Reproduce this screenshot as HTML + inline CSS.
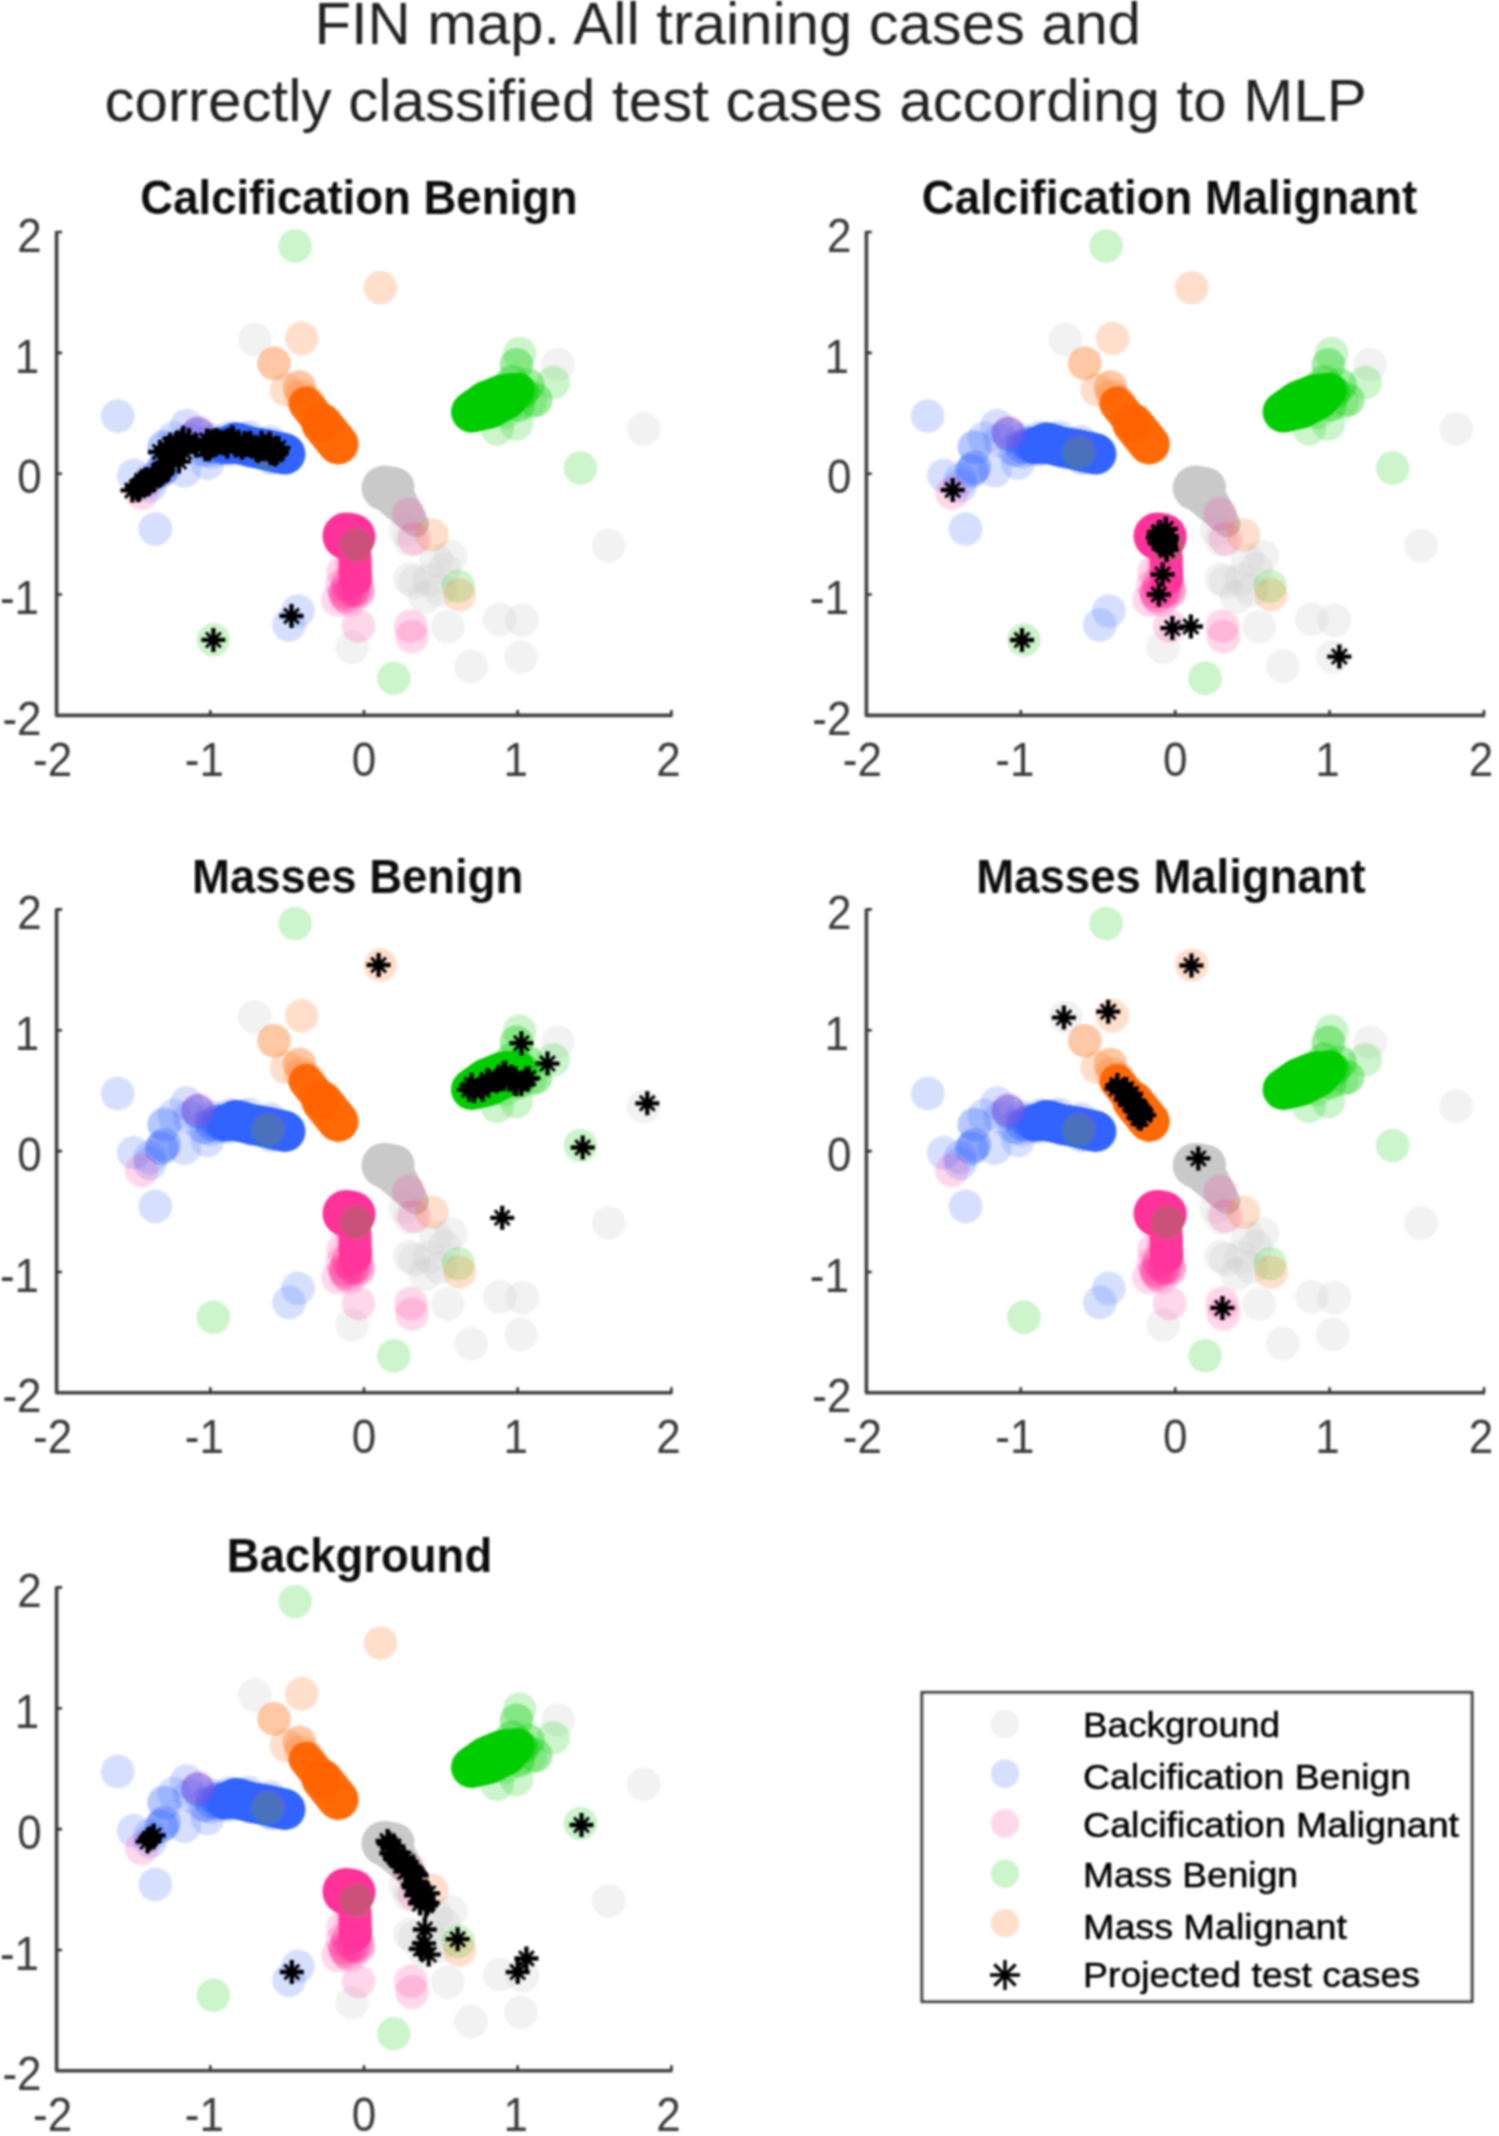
<!DOCTYPE html>
<html><head><meta charset="utf-8"><style>
html,body{margin:0;padding:0;background:#fff;}
svg{display:block;}
text{font-family:"Liberation Sans",sans-serif;fill:#222;}
</style></head><body>
<svg width="1499" height="2136" viewBox="0 0 1499 2136">
<defs>
<filter id="bl" x="-5%" y="-5%" width="110%" height="110%"><feGaussianBlur stdDeviation="1.1"/></filter>
<filter id="sb" x="-5%" y="-5%" width="110%" height="110%"><feGaussianBlur stdDeviation="1.3"/></filter>
<filter id="tb" x="-2%" y="-5%" width="104%" height="110%"><feGaussianBlur stdDeviation="0.85"/></filter>
<g id="bg">
<g fill="#C9C9C9" fill-opacity="1.0"><circle cx="384.0" cy="488.0" r="22.5"/><circle cx="385.8" cy="487.8" r="22.0"/><circle cx="387.7" cy="487.7" r="21.5"/><circle cx="389.5" cy="487.5" r="21.0"/><circle cx="391.3" cy="487.3" r="20.5"/><circle cx="393.2" cy="487.2" r="20.0"/><circle cx="395.0" cy="487.0" r="19.5"/><circle cx="392.0" cy="494.0" r="21.0"/><circle cx="393.2" cy="495.5" r="20.6"/><circle cx="394.4" cy="497.0" r="20.2"/><circle cx="395.6" cy="498.5" r="19.8"/><circle cx="396.8" cy="500.0" r="19.4"/><circle cx="398.0" cy="501.5" r="19.0"/><circle cx="399.2" cy="503.0" r="18.6"/><circle cx="400.4" cy="504.5" r="18.2"/><circle cx="401.6" cy="506.0" r="17.8"/><circle cx="402.8" cy="507.5" r="17.4"/><circle cx="404.0" cy="509.0" r="17.0"/><circle cx="405.2" cy="510.5" r="16.6"/><circle cx="406.4" cy="512.0" r="16.2"/><circle cx="407.6" cy="513.5" r="15.8"/><circle cx="408.8" cy="515.0" r="15.4"/><circle cx="410.0" cy="516.5" r="15.0"/><circle cx="411.2" cy="518.0" r="14.6"/><circle cx="412.4" cy="519.5" r="14.2"/><circle cx="413.6" cy="521.0" r="13.8"/><circle cx="414.8" cy="522.5" r="13.4"/><circle cx="416.0" cy="524.0" r="13.0"/></g>
<g fill="#BEBEBE" fill-opacity="0.2"><circle cx="254.8" cy="339.6" r="16.8"/><circle cx="558.0" cy="364.8" r="16.8"/><circle cx="643.7" cy="428.9" r="16.8"/><circle cx="608.8" cy="545.6" r="16.8"/><circle cx="450.8" cy="556.3" r="16.8"/><circle cx="444.5" cy="569.0" r="16.8"/><circle cx="414.5" cy="582.0" r="16.8"/><circle cx="429.5" cy="579.8" r="16.8"/><circle cx="425.2" cy="596.9" r="16.8"/><circle cx="409.8" cy="579.0" r="16.8"/><circle cx="447.6" cy="626.7" r="16.8"/><circle cx="499.9" cy="619.3" r="16.8"/><circle cx="522.4" cy="620.3" r="16.8"/><circle cx="471.1" cy="666.2" r="16.8"/><circle cx="352.1" cy="647.3" r="16.8"/><circle cx="521.0" cy="657.0" r="16.8"/><circle cx="440.0" cy="590.0" r="16.8"/><circle cx="436.0" cy="560.0" r="16.8"/><circle cx="405.0" cy="530.0" r="16.8"/><circle cx="410.0" cy="540.0" r="16.8"/></g>
<g fill="#3366FF" fill-opacity="0.97"><circle cx="224.0" cy="446.0" r="18.0"/><circle cx="226.0" cy="445.5" r="18.4"/><circle cx="228.0" cy="445.0" r="18.8"/><circle cx="230.0" cy="444.5" r="19.2"/><circle cx="232.0" cy="444.0" r="19.7"/><circle cx="234.0" cy="443.5" r="20.1"/><circle cx="236.0" cy="443.0" r="20.5"/><circle cx="236.0" cy="443.0" r="20.5"/><circle cx="238.0" cy="443.5" r="20.4"/><circle cx="240.0" cy="444.0" r="20.4"/><circle cx="242.0" cy="444.5" r="20.3"/><circle cx="244.0" cy="445.0" r="20.2"/><circle cx="246.0" cy="445.5" r="20.2"/><circle cx="248.0" cy="446.0" r="20.1"/><circle cx="250.0" cy="446.5" r="20.1"/><circle cx="252.0" cy="447.0" r="20.0"/><circle cx="252.0" cy="447.0" r="20.0"/><circle cx="254.0" cy="447.4" r="20.1"/><circle cx="256.0" cy="447.8" r="20.1"/><circle cx="258.0" cy="448.1" r="20.2"/><circle cx="260.0" cy="448.5" r="20.2"/><circle cx="262.0" cy="448.9" r="20.3"/><circle cx="264.0" cy="449.2" r="20.4"/><circle cx="266.0" cy="449.6" r="20.4"/><circle cx="268.0" cy="450.0" r="20.5"/><circle cx="268.0" cy="450.0" r="20.5"/><circle cx="270.1" cy="450.5" r="20.5"/><circle cx="272.2" cy="451.0" r="20.5"/><circle cx="274.4" cy="451.5" r="20.5"/><circle cx="276.5" cy="452.0" r="20.5"/><circle cx="278.6" cy="452.5" r="20.5"/><circle cx="280.8" cy="453.0" r="20.5"/><circle cx="282.9" cy="453.5" r="20.5"/><circle cx="285.0" cy="454.0" r="20.5"/></g>
<g fill="#3366FF" fill-opacity="0.2"><circle cx="117.7" cy="416.1" r="16.8"/><circle cx="155.3" cy="529.0" r="16.8"/><circle cx="133.7" cy="475.4" r="16.8"/><circle cx="164.1" cy="446.5" r="16.8"/><circle cx="184.4" cy="470.8" r="16.8"/><circle cx="186.6" cy="425.7" r="16.8"/><circle cx="207.4" cy="463.2" r="16.8"/><circle cx="298.0" cy="611.0" r="16.8"/><circle cx="289.0" cy="625.0" r="16.8"/><circle cx="174.0" cy="438.0" r="16.8"/><circle cx="150.0" cy="480.0" r="16.8"/><circle cx="212.0" cy="440.0" r="16.8"/><circle cx="161.4" cy="470.8" r="16.8"/><circle cx="161.4" cy="470.8" r="16.8"/><circle cx="164.1" cy="467.4" r="16.8"/><circle cx="164.1" cy="467.4" r="16.8"/><circle cx="164.4" cy="447.8" r="16.8"/><circle cx="150.0" cy="486.0" r="16.8"/><circle cx="212.0" cy="447.0" r="16.8"/><circle cx="212.0" cy="447.0" r="16.8"/><circle cx="218.0" cy="444.0" r="16.8"/><circle cx="218.0" cy="444.0" r="16.8"/><circle cx="206.0" cy="450.0" r="16.8"/><circle cx="198.0" cy="434.0" r="16.8"/><circle cx="198.0" cy="434.0" r="16.8"/><circle cx="198.0" cy="434.0" r="16.8"/><circle cx="190.0" cy="440.0" r="16.8"/><circle cx="203.1" cy="449.8" r="16.8"/><circle cx="214.9" cy="443.6" r="16.8"/><circle cx="219.4" cy="443.7" r="16.8"/><circle cx="227.5" cy="445.1" r="16.8"/><circle cx="229.8" cy="437.6" r="16.8"/><circle cx="242.4" cy="439.5" r="16.8"/><circle cx="248.6" cy="437.2" r="16.8"/><circle cx="252.9" cy="444.2" r="16.8"/><circle cx="257.9" cy="447.2" r="16.8"/><circle cx="270.0" cy="441.7" r="16.8"/><circle cx="269.6" cy="447.7" r="16.8"/><circle cx="283.5" cy="448.4" r="16.8"/><circle cx="283.8" cy="451.8" r="16.8"/><circle cx="288.2" cy="453.8" r="16.8"/><circle cx="211.5" cy="452.0" r="16.8"/><circle cx="219.1" cy="448.9" r="16.8"/><circle cx="228.2" cy="449.8" r="16.8"/><circle cx="238.1" cy="446.8" r="16.8"/><circle cx="251.7" cy="451.9" r="16.8"/><circle cx="259.3" cy="450.4" r="16.8"/><circle cx="271.0" cy="458.3" r="16.8"/><circle cx="273.0" cy="456.7" r="16.8"/></g>
<path d="M346.0 536.0 L352.0 537.0" fill="none" stroke="#FF3399" stroke-opacity="1.0" stroke-width="47.0" stroke-linecap="round" stroke-linejoin="round"/>
<path d="M355.0 556.0 L355.5 579.0" fill="none" stroke="#FF3399" stroke-opacity="0.97" stroke-width="33.0" stroke-linecap="round" stroke-linejoin="round"/>
<g fill="#FF3399" fill-opacity="0.2"><circle cx="141.7" cy="493.0" r="16.8"/><circle cx="197.8" cy="432.1" r="16.8"/><circle cx="408.7" cy="514.0" r="16.8"/><circle cx="414.0" cy="539.0" r="16.8"/><circle cx="358.5" cy="626.0" r="16.8"/><circle cx="410.9" cy="626.0" r="16.8"/><circle cx="412.0" cy="636.6" r="16.8"/><circle cx="268.6" cy="451.6" r="16.8"/><circle cx="353.0" cy="590.0" r="16.8"/><circle cx="353.0" cy="590.0" r="16.8"/><circle cx="353.0" cy="590.0" r="16.8"/><circle cx="346.0" cy="596.0" r="16.8"/><circle cx="346.0" cy="596.0" r="16.8"/><circle cx="338.0" cy="600.0" r="16.8"/><circle cx="358.0" cy="592.0" r="16.8"/><circle cx="358.0" cy="592.0" r="16.8"/><circle cx="352.0" cy="566.0" r="16.8"/><circle cx="356.0" cy="576.0" r="16.8"/><circle cx="348.0" cy="584.0" r="16.8"/><circle cx="348.0" cy="584.0" r="16.8"/><circle cx="345.0" cy="592.0" r="16.8"/><circle cx="345.0" cy="592.0" r="16.8"/><circle cx="358.0" cy="588.0" r="16.8"/><circle cx="343.0" cy="572.0" r="16.8"/><circle cx="350.0" cy="600.0" r="16.8"/><circle cx="342.0" cy="585.0" r="16.8"/></g>
<g fill="#00CC00" fill-opacity="0.97"><circle cx="471.5" cy="412.0" r="20.5"/><circle cx="473.6" cy="411.1" r="20.9"/><circle cx="475.7" cy="410.1" r="21.4"/><circle cx="477.8" cy="409.2" r="21.8"/><circle cx="479.9" cy="408.2" r="22.2"/><circle cx="482.0" cy="407.3" r="22.7"/><circle cx="484.1" cy="406.4" r="23.1"/><circle cx="486.2" cy="405.4" r="23.6"/><circle cx="488.3" cy="404.5" r="24.0"/><circle cx="488.3" cy="404.5" r="24.0"/><circle cx="490.3" cy="403.6" r="23.9"/><circle cx="492.3" cy="402.6" r="23.8"/><circle cx="494.3" cy="401.7" r="23.6"/><circle cx="496.2" cy="400.8" r="23.5"/><circle cx="498.2" cy="399.8" r="23.4"/><circle cx="500.2" cy="398.9" r="23.2"/><circle cx="502.2" cy="397.9" r="23.1"/><circle cx="504.2" cy="397.0" r="23.0"/><circle cx="504.2" cy="397.0" r="23.0"/><circle cx="505.9" cy="396.1" r="22.2"/><circle cx="507.6" cy="395.2" r="21.5"/><circle cx="509.4" cy="394.4" r="20.8"/><circle cx="511.1" cy="393.5" r="20.0"/><circle cx="512.8" cy="392.6" r="19.2"/><circle cx="514.5" cy="391.8" r="18.5"/><circle cx="516.3" cy="390.9" r="17.8"/><circle cx="518.0" cy="390.0" r="17.0"/></g>
<g fill="#00CC00" fill-opacity="0.2"><circle cx="295.2" cy="246.1" r="16.8"/><circle cx="267.4" cy="452.9" r="16.8"/><circle cx="356.4" cy="544.8" r="16.8"/><circle cx="213.4" cy="639.9" r="16.8"/><circle cx="393.8" cy="678.3" r="16.8"/><circle cx="458.3" cy="586.2" r="16.8"/><circle cx="519.7" cy="353.6" r="16.8"/><circle cx="516.5" cy="364.8" r="16.8"/><circle cx="553.3" cy="382.4" r="16.8"/><circle cx="535.7" cy="400.0" r="16.8"/><circle cx="516.5" cy="424.0" r="16.8"/><circle cx="497.2" cy="428.9" r="16.8"/><circle cx="580.5" cy="468.1" r="16.8"/><circle cx="516.5" cy="364.8" r="16.8"/><circle cx="535.7" cy="400.0" r="16.8"/><circle cx="522.0" cy="392.0" r="16.8"/><circle cx="522.0" cy="392.0" r="16.8"/><circle cx="522.0" cy="392.0" r="16.8"/><circle cx="528.0" cy="385.0" r="16.8"/><circle cx="528.0" cy="385.0" r="16.8"/><circle cx="512.0" cy="382.0" r="16.8"/><circle cx="512.0" cy="382.0" r="16.8"/><circle cx="530.0" cy="402.0" r="16.8"/><circle cx="518.0" cy="405.0" r="16.8"/><circle cx="518.0" cy="405.0" r="16.8"/><circle cx="505.0" cy="412.0" r="16.8"/></g>
<path d="M306.0 404.0 L322.0 424.0" fill="none" stroke="#FF6600" stroke-opacity="0.95" stroke-width="35.0" stroke-linecap="round" stroke-linejoin="round"/>
<path d="M322.0 424.0 L338.0 444.0" fill="none" stroke="#FF6600" stroke-opacity="0.97" stroke-width="41.0" stroke-linecap="round" stroke-linejoin="round"/>
<g fill="#FF6600" fill-opacity="0.2"><circle cx="301.7" cy="338.4" r="16.8"/><circle cx="286.3" cy="390.1" r="16.8"/><circle cx="432.0" cy="535.0" r="16.8"/><circle cx="459.4" cy="594.7" r="16.8"/><circle cx="380.5" cy="287.7" r="16.8"/><circle cx="274.0" cy="363.4" r="16.8"/><circle cx="274.0" cy="363.4" r="16.8"/><circle cx="299.5" cy="387.1" r="16.8"/><circle cx="299.5" cy="387.1" r="16.8"/><circle cx="301.3" cy="396.3" r="16.8"/><circle cx="308.4" cy="401.8" r="16.8"/><circle cx="313.6" cy="410.5" r="16.8"/><circle cx="315.8" cy="417.6" r="16.8"/><circle cx="324.5" cy="426.7" r="16.8"/><circle cx="327.8" cy="432.6" r="16.8"/><circle cx="331.1" cy="437.5" r="16.8"/><circle cx="341.8" cy="445.5" r="16.8"/></g>
</g>
</defs>
<rect width="100%" height="100%" fill="#fff"/>
<g filter="url(#tb)">
<text x="314.5" y="43.5" font-size="59" textLength="826.5" lengthAdjust="spacingAndGlyphs" fill="#1a1a1a">FIN map. All training cases and</text>
<text x="104.5" y="120.5" font-size="59" textLength="1262.4" lengthAdjust="spacingAndGlyphs" fill="#1a1a1a">correctly classified test cases according to MLP</text>
</g>
<g transform="translate(56.60,715.40) scale(1.00000,1) translate(-56.6,-715.4)">
<use href="#bg" filter="url(#bl)"/>
<g filter="url(#sb)"><path d="M120.4 490.4H144.4M132.4 478.4V502.4M126.1 490.3H150.1M138.1 478.3V502.3M124.9 487.4H148.9M136.9 475.4V499.4M127.5 489.1H151.5M139.5 477.1V501.1M129.0 485.0H153.0M141.0 473.0V497.0M130.2 481.0H154.2M142.2 469.0V493.0M128.1 485.3H152.1M140.1 473.3V497.3M137.1 483.3H161.1M149.1 471.3V495.3M133.8 478.9H157.8M145.8 466.9V490.9M136.1 484.3H160.1M148.1 472.3V496.3M139.7 479.7H163.7M151.7 467.7V491.7M141.8 476.1H165.8M153.8 464.1V488.1M140.5 480.7H164.5M152.5 468.7V492.7M142.4 475.7H166.4M154.4 463.7V487.7M141.3 475.3H165.3M153.3 463.3V487.3M148.2 469.8H172.2M160.2 457.8V481.8M148.2 475.2H172.2M160.2 463.2V487.2M150.5 473.4H174.5M162.5 461.4V485.4M151.3 470.5H175.3M163.3 458.5V482.5M150.7 468.7H174.7M162.7 456.7V480.7M148.0 471.1H172.0M160.0 459.1V483.1M153.6 464.6H177.6M165.6 452.6V476.6M154.0 447.9H178.0M166.0 435.9V459.9M158.1 444.8H182.1M170.1 432.8V456.8M164.1 444.1H188.1M176.1 432.1V456.1M169.7 441.2H193.7M181.7 429.2V453.2M171.3 438.1H195.3M183.3 426.1V450.1M176.9 440.1H200.9M188.9 428.1V452.1M184.2 445.8H208.2M196.2 433.8V457.8M166.9 461.6H190.9M178.9 449.6V473.6M160.0 455.0H184.0M172.0 443.0V467.0M172.0 452.0H196.0M184.0 440.0V464.0M148.0 452.0H172.0M160.0 440.0V464.0M197.0 449.2H221.0M209.0 437.2V461.2M193.5 449.2H217.5M205.5 437.2V461.2M199.6 441.3H223.6M211.6 429.3V453.3M195.0 440.4H219.0M207.0 428.4V452.4M204.3 442.5H228.3M216.3 430.5V454.5M199.8 446.0H223.8M211.8 434.0V458.0M204.1 440.2H228.1M216.1 428.2V452.2M204.2 444.6H228.2M216.2 432.6V456.6M206.2 441.8H230.2M218.2 429.8V453.8M213.6 443.4H237.6M225.6 431.4V455.4M211.7 443.3H235.7M223.7 431.3V455.3M210.6 442.2H234.6M222.6 430.2V454.2M216.5 440.0H240.5M228.5 428.0V452.0M215.4 446.8H239.4M227.4 434.8V458.8M221.3 439.7H245.3M233.3 427.7V451.7M224.2 445.5H248.2M236.2 433.5V457.5M220.3 437.3H244.3M232.3 425.3V449.3M223.5 444.3H247.5M235.5 432.3V456.3M225.6 444.5H249.6M237.6 432.5V456.5M232.7 443.1H256.7M244.7 431.1V455.1M230.1 447.7H254.1M242.1 435.7V459.7M237.8 443.4H261.8M249.8 431.4V455.4M234.0 445.0H258.0M246.0 433.0V457.0M237.6 444.6H261.6M249.6 432.6V456.6M238.8 445.5H262.8M250.8 433.5V457.5M238.1 442.7H262.1M250.1 430.7V454.7M249.0 449.1H273.0M261.0 437.1V461.1M244.3 449.5H268.3M256.3 437.5V461.5M246.2 450.9H270.2M258.2 438.9V462.9M252.4 446.2H276.4M264.4 434.2V458.2M249.4 442.7H273.4M261.4 430.7V454.7M257.5 443.6H281.5M269.5 431.6V455.6M258.8 453.3H282.8M270.8 441.3V465.3M258.2 445.9H282.2M270.2 433.9V457.9M263.1 454.5H287.1M275.1 442.5V466.5M263.3 450.3H287.3M275.3 438.3V462.3M261.9 449.2H285.9M273.9 437.2V461.2M262.1 452.7H286.1M274.1 440.7V464.7M266.4 447.9H290.4M278.4 435.9V459.9M265.0 452.7H289.0M277.0 440.7V464.7M201.4 639.9H225.4M213.4 627.9V651.9M279.5 616.0H303.5M291.5 604.0V628.0" stroke="#000" stroke-width="4.3" fill="none"/><path d="M125.0 483.0L139.8 497.8M125.0 497.8L139.8 483.0M130.7 482.9L145.5 497.8M130.7 497.8L145.5 482.9M129.5 480.0L144.4 494.8M129.5 494.8L144.4 480.0M132.0 481.7L146.9 496.5M132.0 496.5L146.9 481.7M133.6 477.5L148.5 492.4M133.6 492.4L148.5 477.5M134.8 473.6L149.7 488.4M134.8 488.4L149.7 473.6M132.7 477.9L147.5 492.7M132.7 492.7L147.5 477.9M141.6 475.9L156.5 490.8M141.6 490.8L156.5 475.9M138.4 471.5L153.2 486.3M138.4 486.3L153.2 471.5M140.7 476.9L155.5 491.7M140.7 491.7L155.5 476.9M144.3 472.3L159.1 487.1M144.3 487.1L159.1 472.3M146.4 468.7L161.2 483.5M146.4 483.5L161.2 468.7M145.0 473.3L159.9 488.2M145.0 488.2L159.9 473.3M146.9 468.2L161.8 483.1M146.9 483.1L161.8 468.2M145.9 467.8L160.7 482.7M145.9 482.7L160.7 467.8M152.8 462.4L167.6 477.2M152.8 477.2L167.6 462.4M152.8 467.8L167.7 482.6M152.8 482.6L167.7 467.8M155.0 466.0L169.9 480.8M155.0 480.8L169.9 466.0M155.8 463.1L170.7 477.9M155.8 477.9L170.7 463.1M155.3 461.2L170.1 476.1M155.3 476.1L170.1 461.2M152.6 463.7L167.5 478.5M152.6 478.5L167.5 463.7M158.1 457.2L173.0 472.0M158.1 472.0L173.0 457.2M158.6 440.5L173.5 455.3M158.6 455.3L173.5 440.5M162.7 437.3L177.5 452.2M162.7 452.2L177.5 437.3M168.7 436.7L183.6 451.5M168.7 451.5L183.6 436.7M174.2 433.7L189.1 448.6M174.2 448.6L189.1 433.7M175.9 430.6L190.8 445.5M175.9 445.5L190.8 430.6M181.5 432.6L196.3 447.5M181.5 447.5L196.3 432.6M188.7 438.4L203.6 453.2M188.7 453.2L203.6 438.4M171.5 454.2L186.3 469.0M171.5 469.0L186.3 454.2M164.6 447.6L179.4 462.4M164.6 462.4L179.4 447.6M176.6 444.6L191.4 459.4M176.6 459.4L191.4 444.6M152.6 444.6L167.4 459.4M152.6 459.4L167.4 444.6M201.5 441.7L216.4 456.6M201.5 456.6L216.4 441.7M198.1 441.7L212.9 456.6M198.1 456.6L212.9 441.7M204.2 433.9L219.0 448.8M204.2 448.8L219.0 433.9M199.6 433.0L214.4 447.8M199.6 447.8L214.4 433.0M208.9 435.1L223.8 449.9M208.9 449.9L223.8 435.1M204.4 438.6L219.2 453.5M204.4 453.5L219.2 438.6M208.7 432.8L223.5 447.7M208.7 447.7L223.5 432.8M208.8 437.1L223.6 452.0M208.8 452.0L223.6 437.1M210.8 434.4L225.7 449.2M210.8 449.2L225.7 434.4M218.2 435.9L233.0 450.8M218.2 450.8L233.0 435.9M216.2 435.9L231.1 450.7M216.2 450.7L231.1 435.9M215.2 434.8L230.0 449.6M215.2 449.6L230.0 434.8M221.1 432.5L236.0 447.4M221.1 447.4L236.0 432.5M219.9 439.4L234.8 454.3M219.9 454.3L234.8 439.4M225.9 432.3L240.7 447.1M225.9 447.1L240.7 432.3M228.8 438.1L243.6 453.0M228.8 453.0L243.6 438.1M224.9 429.9L239.7 444.7M224.9 444.7L239.7 429.9M228.1 436.9L242.9 451.8M228.1 451.8L242.9 436.9M230.2 437.0L245.0 451.9M230.2 451.9L245.0 437.0M237.3 435.7L252.1 450.6M237.3 450.6L252.1 435.7M234.6 440.3L249.5 455.2M234.6 455.2L249.5 440.3M242.4 436.0L257.2 450.8M242.4 450.8L257.2 436.0M238.5 437.6L253.4 452.4M238.5 452.4L253.4 437.6M242.2 437.1L257.0 452.0M242.2 452.0L257.0 437.1M243.4 438.1L258.2 452.9M243.4 452.9L258.2 438.1M242.6 435.3L257.5 450.2M242.6 450.2L257.5 435.3M253.6 441.7L268.4 456.5M253.6 456.5L268.4 441.7M248.8 442.1L263.7 456.9M248.8 456.9L263.7 442.1M250.8 443.5L265.6 458.3M250.8 458.3L265.6 443.5M257.0 438.8L271.8 453.6M257.0 453.6L271.8 438.8M253.9 435.3L268.8 450.1M253.9 450.1L268.8 435.3M262.1 436.1L276.9 451.0M262.1 451.0L276.9 436.1M263.4 445.9L278.2 460.8M263.4 460.8L278.2 445.9M262.8 438.5L277.6 453.4M262.8 453.4L277.6 438.5M267.6 447.1L282.5 461.9M267.6 461.9L282.5 447.1M267.9 442.9L282.7 457.8M267.9 457.8L282.7 442.9M266.5 441.8L281.4 456.7M266.5 456.7L281.4 441.8M266.7 445.3L281.6 460.2M266.7 460.2L281.6 445.3M270.9 440.5L285.8 455.4M270.9 455.4L285.8 440.5M269.6 445.2L284.5 460.1M269.6 460.1L284.5 445.2M206.0 632.5L220.8 647.3M206.0 647.3L220.8 632.5M284.1 608.6L298.9 623.4M284.1 623.4L298.9 608.6" stroke="#000" stroke-width="3.1" fill="none"/><circle cx="132.4" cy="490.4" r="4.8"/><circle cx="138.1" cy="490.3" r="4.8"/><circle cx="136.9" cy="487.4" r="4.8"/><circle cx="139.5" cy="489.1" r="4.8"/><circle cx="141.0" cy="485.0" r="4.8"/><circle cx="142.2" cy="481.0" r="4.8"/><circle cx="140.1" cy="485.3" r="4.8"/><circle cx="149.1" cy="483.3" r="4.8"/><circle cx="145.8" cy="478.9" r="4.8"/><circle cx="148.1" cy="484.3" r="4.8"/><circle cx="151.7" cy="479.7" r="4.8"/><circle cx="153.8" cy="476.1" r="4.8"/><circle cx="152.5" cy="480.7" r="4.8"/><circle cx="154.4" cy="475.7" r="4.8"/><circle cx="153.3" cy="475.3" r="4.8"/><circle cx="160.2" cy="469.8" r="4.8"/><circle cx="160.2" cy="475.2" r="4.8"/><circle cx="162.5" cy="473.4" r="4.8"/><circle cx="163.3" cy="470.5" r="4.8"/><circle cx="162.7" cy="468.7" r="4.8"/><circle cx="160.0" cy="471.1" r="4.8"/><circle cx="165.6" cy="464.6" r="4.8"/><circle cx="166.0" cy="447.9" r="4.8"/><circle cx="170.1" cy="444.8" r="4.8"/><circle cx="176.1" cy="444.1" r="4.8"/><circle cx="181.7" cy="441.2" r="4.8"/><circle cx="183.3" cy="438.1" r="4.8"/><circle cx="188.9" cy="440.1" r="4.8"/><circle cx="196.2" cy="445.8" r="4.8"/><circle cx="178.9" cy="461.6" r="4.8"/><circle cx="172.0" cy="455.0" r="4.8"/><circle cx="184.0" cy="452.0" r="4.8"/><circle cx="160.0" cy="452.0" r="4.8"/><circle cx="209.0" cy="449.2" r="4.8"/><circle cx="205.5" cy="449.2" r="4.8"/><circle cx="211.6" cy="441.3" r="4.8"/><circle cx="207.0" cy="440.4" r="4.8"/><circle cx="216.3" cy="442.5" r="4.8"/><circle cx="211.8" cy="446.0" r="4.8"/><circle cx="216.1" cy="440.2" r="4.8"/><circle cx="216.2" cy="444.6" r="4.8"/><circle cx="218.2" cy="441.8" r="4.8"/><circle cx="225.6" cy="443.4" r="4.8"/><circle cx="223.7" cy="443.3" r="4.8"/><circle cx="222.6" cy="442.2" r="4.8"/><circle cx="228.5" cy="440.0" r="4.8"/><circle cx="227.4" cy="446.8" r="4.8"/><circle cx="233.3" cy="439.7" r="4.8"/><circle cx="236.2" cy="445.5" r="4.8"/><circle cx="232.3" cy="437.3" r="4.8"/><circle cx="235.5" cy="444.3" r="4.8"/><circle cx="237.6" cy="444.5" r="4.8"/><circle cx="244.7" cy="443.1" r="4.8"/><circle cx="242.1" cy="447.7" r="4.8"/><circle cx="249.8" cy="443.4" r="4.8"/><circle cx="246.0" cy="445.0" r="4.8"/><circle cx="249.6" cy="444.6" r="4.8"/><circle cx="250.8" cy="445.5" r="4.8"/><circle cx="250.1" cy="442.7" r="4.8"/><circle cx="261.0" cy="449.1" r="4.8"/><circle cx="256.3" cy="449.5" r="4.8"/><circle cx="258.2" cy="450.9" r="4.8"/><circle cx="264.4" cy="446.2" r="4.8"/><circle cx="261.4" cy="442.7" r="4.8"/><circle cx="269.5" cy="443.6" r="4.8"/><circle cx="270.8" cy="453.3" r="4.8"/><circle cx="270.2" cy="445.9" r="4.8"/><circle cx="275.1" cy="454.5" r="4.8"/><circle cx="275.3" cy="450.3" r="4.8"/><circle cx="273.9" cy="449.2" r="4.8"/><circle cx="274.1" cy="452.7" r="4.8"/><circle cx="278.4" cy="447.9" r="4.8"/><circle cx="277.0" cy="452.7" r="4.8"/><circle cx="213.4" cy="639.9" r="4.8"/><circle cx="291.5" cy="616.0" r="4.8"/></g>
</g>
<g filter="url(#tb)"><path d="M56.6 231.0V715.4H672.4" fill="none" stroke="#404040" stroke-width="3.6" stroke-linejoin="round"/><path d="M210.3 715.4V709.9M364.0 715.4V709.9M517.7 715.4V709.9M671.4 715.4V709.9M56.6 594.5H62.1M56.6 473.7H62.1M56.6 352.9H62.1M56.6 232.0H62.1" stroke="#333" stroke-width="2.6" fill="none"/><text transform="translate(52.6,775.7) scale(1,1.08)" font-size="44" text-anchor="middle" style="fill:#3a3a3a">-2</text><text transform="translate(41.6,735.0) scale(1,1.08)" font-size="44" text-anchor="end" style="fill:#3a3a3a">-2</text><text transform="translate(204.3,775.7) scale(1,1.08)" font-size="44" text-anchor="middle" style="fill:#3a3a3a">-1</text><text transform="translate(39.1,614.1) scale(1,1.08)" font-size="44" text-anchor="end" style="fill:#3a3a3a">-1</text><text transform="translate(364.0,775.7) scale(1,1.08)" font-size="44" text-anchor="middle" style="fill:#3a3a3a">0</text><text transform="translate(41.6,493.3) scale(1,1.08)" font-size="44" text-anchor="end" style="fill:#3a3a3a">0</text><text transform="translate(515.7,775.7) scale(1,1.08)" font-size="44" text-anchor="middle" style="fill:#3a3a3a">1</text><text transform="translate(39.1,372.5) scale(1,1.08)" font-size="44" text-anchor="end" style="fill:#3a3a3a">1</text><text transform="translate(668.4,775.7) scale(1,1.08)" font-size="44" text-anchor="middle" style="fill:#3a3a3a">2</text><text transform="translate(41.6,251.6) scale(1,1.08)" font-size="44" text-anchor="end" style="fill:#3a3a3a">2</text></g>
<text transform="translate(359,214) scale(1,1.07)" font-size="45.5" font-weight="bold" text-anchor="middle" style="fill:#111" filter="url(#tb)">Calcification Benign</text>
<g transform="translate(866.40,715.40) scale(1.00455,1) translate(-56.6,-715.4)">
<use href="#bg" filter="url(#bl)"/>
<g filter="url(#sb)"><path d="M130.5 490.0H154.5M142.5 478.0V502.0M199.5 640.0H223.5M211.5 628.0V652.0M339.5 574.5H363.5M351.5 562.5V586.5M335.7 594.5H359.7M347.7 582.5V606.5M349.2 628.1H373.2M361.2 616.1V640.1M367.6 626.5H391.6M379.6 614.5V638.5M515.4 656.6H539.4M527.4 644.6V668.6M336.5 532.0H360.5M348.5 520.0V544.0M336.8 536.5H360.8M348.8 524.5V548.5M342.6 528.8H366.6M354.6 516.8V540.8M335.7 532.7H359.7M347.7 520.7V544.7M343.6 538.1H367.6M355.6 526.1V550.1M337.2 533.2H361.2M349.2 521.2V545.2M340.6 540.3H364.6M352.6 528.3V552.3M343.2 536.2H367.2M355.2 524.2V548.2M342.8 540.5H366.8M354.8 528.5V552.5M338.8 544.3H362.8M350.8 532.3V556.3M336.3 542.5H360.3M348.3 530.5V554.5M334.8 537.7H358.8M346.8 525.7V549.7M343.1 539.0H367.1M355.1 527.0V551.0M341.6 543.7H365.6M353.6 531.7V555.7M342.4 542.2H366.4M354.4 530.2V554.2M337.4 542.3H361.4M349.4 530.3V554.3M342.7 546.2H366.7M354.7 534.2V558.2M343.5 549.9H367.5M355.5 537.9V561.9" stroke="#000" stroke-width="4.3" fill="none"/><path d="M135.1 482.6L149.9 497.4M135.1 497.4L149.9 482.6M204.1 632.6L218.9 647.4M204.1 647.4L218.9 632.6M344.1 567.1L358.9 581.9M344.1 581.9L358.9 567.1M340.3 587.1L355.1 601.9M340.3 601.9L355.1 587.1M353.8 620.7L368.6 635.5M353.8 635.5L368.6 620.7M372.2 619.1L387.0 633.9M372.2 633.9L387.0 619.1M520.0 649.2L534.8 664.0M520.0 664.0L534.8 649.2M341.0 524.6L355.9 539.4M341.0 539.4L355.9 524.6M341.4 529.1L356.2 544.0M341.4 544.0L356.2 529.1M347.2 521.4L362.0 536.3M347.2 536.3L362.0 521.4M340.3 525.3L355.1 540.2M340.3 540.2L355.1 525.3M348.2 530.7L363.0 545.5M348.2 545.5L363.0 530.7M341.8 525.8L356.6 540.7M341.8 540.7L356.6 525.8M345.2 532.9L360.0 547.7M345.2 547.7L360.0 532.9M347.8 528.8L362.7 543.6M347.8 543.6L362.7 528.8M347.4 533.0L362.2 547.9M347.4 547.9L362.2 533.0M343.4 536.8L358.3 551.7M343.4 551.7L358.3 536.8M340.9 535.1L355.8 549.9M340.9 549.9L355.8 535.1M339.4 530.3L354.3 545.2M339.4 545.2L354.3 530.3M347.7 531.6L362.5 546.4M347.7 546.4L362.5 531.6M346.2 536.3L361.0 551.1M346.2 551.1L361.0 536.3M347.0 534.8L361.8 549.6M347.0 549.6L361.8 534.8M342.0 534.8L356.8 549.7M342.0 549.7L356.8 534.8M347.2 538.8L362.1 553.6M347.2 553.6L362.1 538.8M348.1 542.4L363.0 557.3M348.1 557.3L363.0 542.4" stroke="#000" stroke-width="3.1" fill="none"/><circle cx="142.5" cy="490.0" r="4.8"/><circle cx="211.5" cy="640.0" r="4.8"/><circle cx="351.5" cy="574.5" r="4.8"/><circle cx="347.7" cy="594.5" r="4.8"/><circle cx="361.2" cy="628.1" r="4.8"/><circle cx="379.6" cy="626.5" r="4.8"/><circle cx="527.4" cy="656.6" r="4.8"/><circle cx="348.5" cy="532.0" r="4.8"/><circle cx="348.8" cy="536.5" r="4.8"/><circle cx="354.6" cy="528.8" r="4.8"/><circle cx="347.7" cy="532.7" r="4.8"/><circle cx="355.6" cy="538.1" r="4.8"/><circle cx="349.2" cy="533.2" r="4.8"/><circle cx="352.6" cy="540.3" r="4.8"/><circle cx="355.2" cy="536.2" r="4.8"/><circle cx="354.8" cy="540.5" r="4.8"/><circle cx="350.8" cy="544.3" r="4.8"/><circle cx="348.3" cy="542.5" r="4.8"/><circle cx="346.8" cy="537.7" r="4.8"/><circle cx="355.1" cy="539.0" r="4.8"/><circle cx="353.6" cy="543.7" r="4.8"/><circle cx="354.4" cy="542.2" r="4.8"/><circle cx="349.4" cy="542.3" r="4.8"/><circle cx="354.7" cy="546.2" r="4.8"/><circle cx="355.5" cy="549.9" r="4.8"/></g>
</g>
<g filter="url(#tb)"><path d="M866.4 231.0V715.4H1485.0" fill="none" stroke="#404040" stroke-width="3.6" stroke-linejoin="round"/><path d="M1020.8 715.4V709.9M1175.2 715.4V709.9M1329.6 715.4V709.9M1484.0 715.4V709.9M866.4 594.5H871.9M866.4 473.7H871.9M866.4 352.9H871.9M866.4 232.0H871.9" stroke="#333" stroke-width="2.6" fill="none"/><text transform="translate(862.4,775.7) scale(1,1.08)" font-size="44" text-anchor="middle" style="fill:#3a3a3a">-2</text><text transform="translate(851.4,735.0) scale(1,1.08)" font-size="44" text-anchor="end" style="fill:#3a3a3a">-2</text><text transform="translate(1014.8,775.7) scale(1,1.08)" font-size="44" text-anchor="middle" style="fill:#3a3a3a">-1</text><text transform="translate(848.9,614.1) scale(1,1.08)" font-size="44" text-anchor="end" style="fill:#3a3a3a">-1</text><text transform="translate(1175.2,775.7) scale(1,1.08)" font-size="44" text-anchor="middle" style="fill:#3a3a3a">0</text><text transform="translate(851.4,493.3) scale(1,1.08)" font-size="44" text-anchor="end" style="fill:#3a3a3a">0</text><text transform="translate(1327.6,775.7) scale(1,1.08)" font-size="44" text-anchor="middle" style="fill:#3a3a3a">1</text><text transform="translate(848.9,372.5) scale(1,1.08)" font-size="44" text-anchor="end" style="fill:#3a3a3a">1</text><text transform="translate(1481.0,775.7) scale(1,1.08)" font-size="44" text-anchor="middle" style="fill:#3a3a3a">2</text><text transform="translate(851.4,251.6) scale(1,1.08)" font-size="44" text-anchor="end" style="fill:#3a3a3a">2</text></g>
<text transform="translate(1169.5,214) scale(1,1.07)" font-size="45.5" font-weight="bold" text-anchor="middle" style="fill:#111" filter="url(#tb)">Calcification Malignant</text>
<g transform="translate(56.60,1392.80) scale(1.00000,1) translate(-56.6,-715.4)">
<use href="#bg" filter="url(#bl)"/>
<g filter="url(#sb)"><path d="M366.6 287.6H390.6M378.6 275.6V299.6M509.4 365.8H533.4M521.4 353.8V377.8M535.5 386.2H559.5M547.5 374.2V398.2M635.3 425.9H659.3M647.3 413.9V437.9M570.7 470.1H594.7M582.7 458.1V482.1M490.2 540.4H514.2M502.2 528.4V552.4M457.1 412.4H481.1M469.1 400.4V424.4M459.6 407.6H483.6M471.6 395.6V419.6M462.2 413.5H486.2M474.2 401.5V425.5M470.7 412.4H494.7M482.7 400.4V424.4M469.7 409.4H493.7M481.7 397.4V421.4M475.8 406.2H499.8M487.8 394.2V418.2M476.7 403.7H500.7M488.7 391.7V415.7M475.4 402.8H499.4M487.4 390.8V414.8M484.5 403.9H508.5M496.5 391.9V415.9M487.4 401.8H511.4M499.4 389.8V413.8M484.8 403.2H508.8M496.8 391.2V415.2M491.9 395.8H515.9M503.9 383.8V407.8M493.2 395.3H517.2M505.2 383.3V407.3M491.3 401.9H515.3M503.3 389.9V413.9M493.2 398.3H517.2M505.2 386.3V410.3M503.3 401.2H527.3M515.3 389.2V413.2M498.8 400.7H522.8M510.8 388.7V412.7M502.5 405.7H526.5M514.5 393.7V417.7M504.2 406.6H528.2M516.2 394.6V418.6M509.3 406.6H533.3M521.3 394.6V418.6M516.4 400.8H540.4M528.4 388.8V412.8M514.0 401.8H538.0M526.0 389.8V413.8" stroke="#000" stroke-width="4.3" fill="none"/><path d="M371.2 280.2L386.0 295.0M371.2 295.0L386.0 280.2M514.0 358.4L528.8 373.2M514.0 373.2L528.8 358.4M540.1 378.8L554.9 393.6M540.1 393.6L554.9 378.8M639.9 418.5L654.7 433.3M639.9 433.3L654.7 418.5M575.3 462.7L590.1 477.5M575.3 477.5L590.1 462.7M494.8 533.0L509.6 547.8M494.8 547.8L509.6 533.0M461.7 405.0L476.5 419.8M461.7 419.8L476.5 405.0M464.2 400.2L479.1 415.0M464.2 415.0L479.1 400.2M466.8 406.1L481.6 420.9M466.8 420.9L481.6 406.1M475.3 405.0L490.1 419.9M475.3 419.9L490.1 405.0M474.3 402.0L489.1 416.9M474.3 416.9L489.1 402.0M480.4 398.8L495.3 413.7M480.4 413.7L495.3 398.8M481.3 396.3L496.2 411.1M481.3 411.1L496.2 396.3M480.0 395.3L494.8 410.2M480.0 410.2L494.8 395.3M489.1 396.5L503.9 411.3M489.1 411.3L503.9 396.5M492.0 394.4L506.8 409.2M492.0 409.2L506.8 394.4M489.4 395.8L504.3 410.7M489.4 410.7L504.3 395.8M496.4 388.4L511.3 403.3M496.4 403.3L511.3 388.4M497.8 387.8L512.7 402.7M497.8 402.7L512.7 387.8M495.9 394.5L510.8 409.4M495.9 409.4L510.8 394.5M497.8 390.8L512.6 405.7M497.8 405.7L512.6 390.8M507.9 393.8L522.7 408.6M507.9 408.6L522.7 393.8M503.4 393.2L518.2 408.1M503.4 408.1L518.2 393.2M507.1 398.3L521.9 413.1M507.1 413.1L521.9 398.3M508.8 399.2L523.7 414.0M508.8 414.0L523.7 399.2M513.9 399.2L528.7 414.1M513.9 414.1L528.7 399.2M521.0 393.4L535.8 408.2M521.0 408.2L535.8 393.4M518.6 394.4L533.5 409.2M518.6 409.2L533.5 394.4" stroke="#000" stroke-width="3.1" fill="none"/><circle cx="378.6" cy="287.6" r="4.8"/><circle cx="521.4" cy="365.8" r="4.8"/><circle cx="547.5" cy="386.2" r="4.8"/><circle cx="647.3" cy="425.9" r="4.8"/><circle cx="582.7" cy="470.1" r="4.8"/><circle cx="502.2" cy="540.4" r="4.8"/><circle cx="469.1" cy="412.4" r="4.8"/><circle cx="471.6" cy="407.6" r="4.8"/><circle cx="474.2" cy="413.5" r="4.8"/><circle cx="482.7" cy="412.4" r="4.8"/><circle cx="481.7" cy="409.4" r="4.8"/><circle cx="487.8" cy="406.2" r="4.8"/><circle cx="488.7" cy="403.7" r="4.8"/><circle cx="487.4" cy="402.8" r="4.8"/><circle cx="496.5" cy="403.9" r="4.8"/><circle cx="499.4" cy="401.8" r="4.8"/><circle cx="496.8" cy="403.2" r="4.8"/><circle cx="503.9" cy="395.8" r="4.8"/><circle cx="505.2" cy="395.3" r="4.8"/><circle cx="503.3" cy="401.9" r="4.8"/><circle cx="505.2" cy="398.3" r="4.8"/><circle cx="515.3" cy="401.2" r="4.8"/><circle cx="510.8" cy="400.7" r="4.8"/><circle cx="514.5" cy="405.7" r="4.8"/><circle cx="516.2" cy="406.6" r="4.8"/><circle cx="521.3" cy="406.6" r="4.8"/><circle cx="528.4" cy="400.8" r="4.8"/><circle cx="526.0" cy="401.8" r="4.8"/></g>
</g>
<g filter="url(#tb)"><path d="M56.6 908.4V1392.8H672.4" fill="none" stroke="#404040" stroke-width="3.6" stroke-linejoin="round"/><path d="M210.3 1392.8V1387.3M364.0 1392.8V1387.3M517.7 1392.8V1387.3M671.4 1392.8V1387.3M56.6 1272.0H62.1M56.6 1151.1H62.1M56.6 1030.2H62.1M56.6 909.4H62.1" stroke="#333" stroke-width="2.6" fill="none"/><text transform="translate(52.6,1453.1) scale(1,1.08)" font-size="44" text-anchor="middle" style="fill:#3a3a3a">-2</text><text transform="translate(41.6,1412.4) scale(1,1.08)" font-size="44" text-anchor="end" style="fill:#3a3a3a">-2</text><text transform="translate(204.3,1453.1) scale(1,1.08)" font-size="44" text-anchor="middle" style="fill:#3a3a3a">-1</text><text transform="translate(39.1,1291.5) scale(1,1.08)" font-size="44" text-anchor="end" style="fill:#3a3a3a">-1</text><text transform="translate(364.0,1453.1) scale(1,1.08)" font-size="44" text-anchor="middle" style="fill:#3a3a3a">0</text><text transform="translate(41.6,1170.7) scale(1,1.08)" font-size="44" text-anchor="end" style="fill:#3a3a3a">0</text><text transform="translate(515.7,1453.1) scale(1,1.08)" font-size="44" text-anchor="middle" style="fill:#3a3a3a">1</text><text transform="translate(39.1,1049.8) scale(1,1.08)" font-size="44" text-anchor="end" style="fill:#3a3a3a">1</text><text transform="translate(668.4,1453.1) scale(1,1.08)" font-size="44" text-anchor="middle" style="fill:#3a3a3a">2</text><text transform="translate(41.6,929.0) scale(1,1.08)" font-size="44" text-anchor="end" style="fill:#3a3a3a">2</text></g>
<text transform="translate(357.7,893) scale(1,1.07)" font-size="45.5" font-weight="bold" text-anchor="middle" style="fill:#111" filter="url(#tb)">Masses Benign</text>
<g transform="translate(866.40,1392.80) scale(1.00455,1) translate(-56.6,-715.4)">
<use href="#bg" filter="url(#bl)"/>
<g filter="url(#sb)"><path d="M241.2 340.2H265.2M253.2 328.2V352.2M285.3 334.3H309.3M297.3 322.3V346.3M368.2 288.1H392.2M380.2 276.1V300.1M375.0 481.0H399.0M387.0 469.0V493.0M399.0 630.5H423.0M411.0 618.5V642.5M293.8 411.2H317.8M305.8 399.2V423.2M294.5 407.7H318.5M306.5 395.7V419.7M303.3 411.6H327.3M315.3 399.6V423.6M301.4 414.4H325.4M313.4 402.4V426.4M300.3 412.9H324.3M312.3 400.9V424.9M306.3 421.8H330.3M318.3 409.8V433.8M308.0 416.5H332.0M320.0 404.5V428.5M303.2 422.1H327.2M315.2 410.1V434.1M310.5 423.1H334.5M322.5 411.1V435.1M309.4 425.6H333.4M321.4 413.6V437.6M307.2 426.2H331.2M319.2 414.2V438.2M308.8 425.5H332.8M320.8 413.5V437.5M308.1 427.4H332.1M320.1 415.4V439.4M316.4 430.4H340.4M328.4 418.4V442.4M314.9 433.7H338.9M326.9 421.7V445.7M318.3 433.3H342.3M330.3 421.3V445.3M314.4 434.5H338.4M326.4 422.5V446.5M315.5 440.3H339.5M327.5 428.3V452.3M321.1 437.7H345.1M333.1 425.7V449.7M317.7 441.4H341.7M329.7 429.4V453.4" stroke="#000" stroke-width="4.3" fill="none"/><path d="M245.8 332.8L260.6 347.6M245.8 347.6L260.6 332.8M289.9 326.9L304.7 341.7M289.9 341.7L304.7 326.9M372.8 280.7L387.6 295.5M372.8 295.5L387.6 280.7M379.6 473.6L394.4 488.4M379.6 488.4L394.4 473.6M403.6 623.1L418.4 637.9M403.6 637.9L418.4 623.1M298.4 403.8L313.2 418.6M298.4 418.6L313.2 403.8M299.1 400.3L313.9 415.1M299.1 415.1L313.9 400.3M307.8 404.1L322.7 419.0M307.8 419.0L322.7 404.1M306.0 407.0L320.8 421.8M306.0 421.8L320.8 407.0M304.9 405.5L319.7 420.3M304.9 420.3L319.7 405.5M310.9 414.3L325.7 429.2M310.9 429.2L325.7 414.3M312.6 409.1L327.4 423.9M312.6 423.9L327.4 409.1M307.8 414.7L322.6 429.5M307.8 429.5L322.6 414.7M315.1 415.7L330.0 430.5M315.1 430.5L330.0 415.7M314.0 418.2L328.9 433.1M314.0 433.1L328.9 418.2M311.8 418.8L326.7 433.7M311.8 433.7L326.7 418.8M313.4 418.1L328.2 432.9M313.4 432.9L328.2 418.1M312.7 420.0L327.5 434.9M312.7 434.9L327.5 420.0M321.0 423.0L335.9 437.9M321.0 437.9L335.9 423.0M319.5 426.2L334.3 441.1M319.5 441.1L334.3 426.2M322.9 425.9L337.7 440.7M322.9 440.7L337.7 425.9M318.9 427.0L333.8 441.9M318.9 441.9L333.8 427.0M320.0 432.9L334.9 447.8M320.0 447.8L334.9 432.9M325.7 430.3L340.5 445.1M325.7 445.1L340.5 430.3M322.3 433.9L337.1 448.8M322.3 448.8L337.1 433.9" stroke="#000" stroke-width="3.1" fill="none"/><circle cx="253.2" cy="340.2" r="4.8"/><circle cx="297.3" cy="334.3" r="4.8"/><circle cx="380.2" cy="288.1" r="4.8"/><circle cx="387.0" cy="481.0" r="4.8"/><circle cx="411.0" cy="630.5" r="4.8"/><circle cx="305.8" cy="411.2" r="4.8"/><circle cx="306.5" cy="407.7" r="4.8"/><circle cx="315.3" cy="411.6" r="4.8"/><circle cx="313.4" cy="414.4" r="4.8"/><circle cx="312.3" cy="412.9" r="4.8"/><circle cx="318.3" cy="421.8" r="4.8"/><circle cx="320.0" cy="416.5" r="4.8"/><circle cx="315.2" cy="422.1" r="4.8"/><circle cx="322.5" cy="423.1" r="4.8"/><circle cx="321.4" cy="425.6" r="4.8"/><circle cx="319.2" cy="426.2" r="4.8"/><circle cx="320.8" cy="425.5" r="4.8"/><circle cx="320.1" cy="427.4" r="4.8"/><circle cx="328.4" cy="430.4" r="4.8"/><circle cx="326.9" cy="433.7" r="4.8"/><circle cx="330.3" cy="433.3" r="4.8"/><circle cx="326.4" cy="434.5" r="4.8"/><circle cx="327.5" cy="440.3" r="4.8"/><circle cx="333.1" cy="437.7" r="4.8"/><circle cx="329.7" cy="441.4" r="4.8"/></g>
</g>
<g filter="url(#tb)"><path d="M866.4 908.4V1392.8H1485.0" fill="none" stroke="#404040" stroke-width="3.6" stroke-linejoin="round"/><path d="M1020.8 1392.8V1387.3M1175.2 1392.8V1387.3M1329.6 1392.8V1387.3M1484.0 1392.8V1387.3M866.4 1272.0H871.9M866.4 1151.1H871.9M866.4 1030.2H871.9M866.4 909.4H871.9" stroke="#333" stroke-width="2.6" fill="none"/><text transform="translate(862.4,1453.1) scale(1,1.08)" font-size="44" text-anchor="middle" style="fill:#3a3a3a">-2</text><text transform="translate(851.4,1412.4) scale(1,1.08)" font-size="44" text-anchor="end" style="fill:#3a3a3a">-2</text><text transform="translate(1014.8,1453.1) scale(1,1.08)" font-size="44" text-anchor="middle" style="fill:#3a3a3a">-1</text><text transform="translate(848.9,1291.5) scale(1,1.08)" font-size="44" text-anchor="end" style="fill:#3a3a3a">-1</text><text transform="translate(1175.2,1453.1) scale(1,1.08)" font-size="44" text-anchor="middle" style="fill:#3a3a3a">0</text><text transform="translate(851.4,1170.7) scale(1,1.08)" font-size="44" text-anchor="end" style="fill:#3a3a3a">0</text><text transform="translate(1327.6,1453.1) scale(1,1.08)" font-size="44" text-anchor="middle" style="fill:#3a3a3a">1</text><text transform="translate(848.9,1049.8) scale(1,1.08)" font-size="44" text-anchor="end" style="fill:#3a3a3a">1</text><text transform="translate(1481.0,1453.1) scale(1,1.08)" font-size="44" text-anchor="middle" style="fill:#3a3a3a">2</text><text transform="translate(851.4,929.0) scale(1,1.08)" font-size="44" text-anchor="end" style="fill:#3a3a3a">2</text></g>
<text transform="translate(1171,893) scale(1,1.07)" font-size="45.5" font-weight="bold" text-anchor="middle" style="fill:#111" filter="url(#tb)">Masses Malignant</text>
<g transform="translate(56.60,2070.80) scale(1.00000,1) translate(-56.6,-715.4)">
<use href="#bg" filter="url(#bl)"/>
<g filter="url(#sb)"><path d="M141.7 480.0H165.7M153.7 468.0V492.0M135.6 486.2H159.6M147.6 474.2V498.2M138.0 483.0H162.0M150.0 471.0V495.0M279.8 616.6H303.8M291.8 604.6V628.6M569.5 469.6H593.5M581.5 457.6V481.6M445.7 583.8H469.7M457.7 571.8V595.8M412.8 574.1H436.8M424.8 562.1V586.1M408.9 593.4H432.9M420.9 581.4V605.4M416.7 599.2H440.7M428.7 587.2V611.2M412.0 588.0H436.0M424.0 576.0V600.0M514.4 603.1H538.4M526.4 591.1V615.1M505.7 616.7H529.7M517.7 604.7V628.7M376.6 487.8H400.6M388.6 475.8V499.8M375.6 485.6H399.6M387.6 473.6V497.6M377.3 488.5H401.3M389.3 476.5V500.5M381.4 491.0H405.4M393.4 479.0V503.0M379.2 498.0H403.2M391.2 486.0V510.0M382.6 501.7H406.6M394.6 489.7V513.7M385.9 504.8H409.9M397.9 492.8V516.8M384.8 504.3H408.8M396.8 492.3V516.3M391.7 503.3H415.7M403.7 491.3V515.3M394.7 506.5H418.7M406.7 494.5V518.5M395.1 515.3H419.1M407.1 503.3V527.3M397.3 512.4H421.3M409.3 500.4V524.4M393.4 516.3H417.4M405.4 504.3V528.3M401.7 516.9H425.7M413.7 504.9V528.9M403.0 518.2H427.0M415.0 506.2V530.2M404.5 520.0H428.5M416.5 508.0V532.0M401.1 529.7H425.1M413.1 517.7V541.7M406.3 532.4H430.3M418.3 520.4V544.4M407.9 533.7H431.9M419.9 521.7V545.7M408.0 531.9H432.0M420.0 519.9V543.9M407.3 534.4H431.3M419.3 522.4V546.4M410.9 541.1H434.9M422.9 529.1V553.1M408.6 538.9H432.6M420.6 526.9V550.9M415.7 547.5H439.7M427.7 535.5V559.5M404.0 540.0H428.0M416.0 528.0V552.0M416.0 538.0H440.0M428.0 526.0V550.0M408.0 548.0H432.0M420.0 536.0V560.0M414.0 550.0H438.0M426.0 538.0V562.0M402.0 532.0H426.0M414.0 520.0V544.0" stroke="#000" stroke-width="4.3" fill="none"/><path d="M146.3 472.6L161.1 487.4M146.3 487.4L161.1 472.6M140.2 478.8L155.0 493.6M140.2 493.6L155.0 478.8M142.6 475.6L157.4 490.4M142.6 490.4L157.4 475.6M284.4 609.2L299.2 624.0M284.4 624.0L299.2 609.2M574.1 462.2L588.9 477.0M574.1 477.0L588.9 462.2M450.3 576.4L465.1 591.2M450.3 591.2L465.1 576.4M417.4 566.7L432.2 581.5M417.4 581.5L432.2 566.7M413.5 586.0L428.3 600.8M413.5 600.8L428.3 586.0M421.3 591.8L436.1 606.6M421.3 606.6L436.1 591.8M416.6 580.6L431.4 595.4M416.6 595.4L431.4 580.6M519.0 595.7L533.8 610.5M519.0 610.5L533.8 595.7M510.3 609.3L525.1 624.1M510.3 624.1L525.1 609.3M381.2 480.3L396.1 495.2M381.2 495.2L396.1 480.3M380.2 478.2L395.0 493.1M380.2 493.1L395.0 478.2M381.8 481.1L396.7 496.0M381.8 496.0L396.7 481.1M385.9 483.6L400.8 498.4M385.9 498.4L400.8 483.6M383.8 490.6L398.6 505.4M383.8 505.4L398.6 490.6M387.2 494.3L402.0 509.1M387.2 509.1L402.0 494.3M390.4 497.3L405.3 512.2M390.4 512.2L405.3 497.3M389.4 496.9L404.2 511.8M389.4 511.8L404.2 496.9M396.3 495.9L411.1 510.8M396.3 510.8L411.1 495.9M399.3 499.1L414.2 513.9M399.3 513.9L414.2 499.1M399.7 507.9L414.6 522.8M399.7 522.8L414.6 507.9M401.9 505.0L416.7 519.8M401.9 519.8L416.7 505.0M398.0 508.9L412.8 523.8M398.0 523.8L412.8 508.9M406.2 509.5L421.1 524.4M406.2 524.4L421.1 509.5M407.6 510.8L422.5 525.7M407.6 525.7L422.5 510.8M409.1 512.6L423.9 527.5M409.1 527.5L423.9 512.6M405.6 522.2L420.5 537.1M405.6 537.1L420.5 522.2M410.9 524.9L425.7 539.8M410.9 539.8L425.7 524.9M412.5 526.3L427.3 541.2M412.5 541.2L427.3 526.3M412.6 524.4L427.4 539.3M412.6 539.3L427.4 524.4M411.9 527.0L426.7 541.8M411.9 541.8L426.7 527.0M415.4 533.7L430.3 548.5M415.4 548.5L430.3 533.7M413.2 531.5L428.0 546.3M413.2 546.3L428.0 531.5M420.3 540.0L435.1 554.9M420.3 554.9L435.1 540.0M408.6 532.6L423.4 547.4M408.6 547.4L423.4 532.6M420.6 530.6L435.4 545.4M420.6 545.4L435.4 530.6M412.6 540.6L427.4 555.4M412.6 555.4L427.4 540.6M418.6 542.6L433.4 557.4M418.6 557.4L433.4 542.6M406.6 524.6L421.4 539.4M406.6 539.4L421.4 524.6" stroke="#000" stroke-width="3.1" fill="none"/><circle cx="153.7" cy="480.0" r="4.8"/><circle cx="147.6" cy="486.2" r="4.8"/><circle cx="150.0" cy="483.0" r="4.8"/><circle cx="291.8" cy="616.6" r="4.8"/><circle cx="581.5" cy="469.6" r="4.8"/><circle cx="457.7" cy="583.8" r="4.8"/><circle cx="424.8" cy="574.1" r="4.8"/><circle cx="420.9" cy="593.4" r="4.8"/><circle cx="428.7" cy="599.2" r="4.8"/><circle cx="424.0" cy="588.0" r="4.8"/><circle cx="526.4" cy="603.1" r="4.8"/><circle cx="517.7" cy="616.7" r="4.8"/><circle cx="388.6" cy="487.8" r="4.8"/><circle cx="387.6" cy="485.6" r="4.8"/><circle cx="389.3" cy="488.5" r="4.8"/><circle cx="393.4" cy="491.0" r="4.8"/><circle cx="391.2" cy="498.0" r="4.8"/><circle cx="394.6" cy="501.7" r="4.8"/><circle cx="397.9" cy="504.8" r="4.8"/><circle cx="396.8" cy="504.3" r="4.8"/><circle cx="403.7" cy="503.3" r="4.8"/><circle cx="406.7" cy="506.5" r="4.8"/><circle cx="407.1" cy="515.3" r="4.8"/><circle cx="409.3" cy="512.4" r="4.8"/><circle cx="405.4" cy="516.3" r="4.8"/><circle cx="413.7" cy="516.9" r="4.8"/><circle cx="415.0" cy="518.2" r="4.8"/><circle cx="416.5" cy="520.0" r="4.8"/><circle cx="413.1" cy="529.7" r="4.8"/><circle cx="418.3" cy="532.4" r="4.8"/><circle cx="419.9" cy="533.7" r="4.8"/><circle cx="420.0" cy="531.9" r="4.8"/><circle cx="419.3" cy="534.4" r="4.8"/><circle cx="422.9" cy="541.1" r="4.8"/><circle cx="420.6" cy="538.9" r="4.8"/><circle cx="427.7" cy="547.5" r="4.8"/><circle cx="416.0" cy="540.0" r="4.8"/><circle cx="428.0" cy="538.0" r="4.8"/><circle cx="420.0" cy="548.0" r="4.8"/><circle cx="426.0" cy="550.0" r="4.8"/><circle cx="414.0" cy="532.0" r="4.8"/></g>
</g>
<g filter="url(#tb)"><path d="M56.6 1586.4V2070.8H672.4" fill="none" stroke="#404040" stroke-width="3.6" stroke-linejoin="round"/><path d="M210.3 2070.8V2065.3M364.0 2070.8V2065.3M517.7 2070.8V2065.3M671.4 2070.8V2065.3M56.6 1950.0H62.1M56.6 1829.1H62.1M56.6 1708.3H62.1M56.6 1587.4H62.1" stroke="#333" stroke-width="2.6" fill="none"/><text transform="translate(52.6,2131.1) scale(1,1.08)" font-size="44" text-anchor="middle" style="fill:#3a3a3a">-2</text><text transform="translate(41.6,2090.4) scale(1,1.08)" font-size="44" text-anchor="end" style="fill:#3a3a3a">-2</text><text transform="translate(204.3,2131.1) scale(1,1.08)" font-size="44" text-anchor="middle" style="fill:#3a3a3a">-1</text><text transform="translate(39.1,1969.6) scale(1,1.08)" font-size="44" text-anchor="end" style="fill:#3a3a3a">-1</text><text transform="translate(364.0,2131.1) scale(1,1.08)" font-size="44" text-anchor="middle" style="fill:#3a3a3a">0</text><text transform="translate(41.6,1848.7) scale(1,1.08)" font-size="44" text-anchor="end" style="fill:#3a3a3a">0</text><text transform="translate(515.7,2131.1) scale(1,1.08)" font-size="44" text-anchor="middle" style="fill:#3a3a3a">1</text><text transform="translate(39.1,1727.9) scale(1,1.08)" font-size="44" text-anchor="end" style="fill:#3a3a3a">1</text><text transform="translate(668.4,2131.1) scale(1,1.08)" font-size="44" text-anchor="middle" style="fill:#3a3a3a">2</text><text transform="translate(41.6,1607.0) scale(1,1.08)" font-size="44" text-anchor="end" style="fill:#3a3a3a">2</text></g>
<text transform="translate(359.5,1571.7) scale(1,1.07)" font-size="45.5" font-weight="bold" text-anchor="middle" style="fill:#111" filter="url(#tb)">Background</text>
<rect x="922" y="1692.5" width="550" height="309" fill="#fff" stroke="#444" stroke-width="3.2" filter="url(#tb)"/><circle cx="1005" cy="1724" r="14.2" fill="#BEBEBE" fill-opacity="0.2" filter="url(#bl)"/><circle cx="1005" cy="1773.6" r="14.2" fill="#3366FF" fill-opacity="0.2" filter="url(#bl)"/><circle cx="1005" cy="1823.5" r="14.2" fill="#FF3399" fill-opacity="0.2" filter="url(#bl)"/><circle cx="1005" cy="1873.6" r="14.2" fill="#00CC00" fill-opacity="0.2" filter="url(#bl)"/><circle cx="1005" cy="1923.3" r="14.2" fill="#FF6600" fill-opacity="0.2" filter="url(#bl)"/><path d="M990.0 1975.0H1020.0M1005.0 1960.0V1990.0M994.4 1964.4L1015.6 1985.6M994.4 1985.6L1015.6 1964.4" stroke="#000" stroke-width="3.4" fill="none" filter="url(#bl)"/><text x="1083" y="1737" font-size="35" textLength="197" lengthAdjust="spacingAndGlyphs" style="fill:#000;stroke:#000;stroke-width:0.5" filter="url(#tb)">Background</text><text x="1083" y="1788.9" font-size="35" textLength="328" lengthAdjust="spacingAndGlyphs" style="fill:#000;stroke:#000;stroke-width:0.5" filter="url(#tb)">Calcification Benign</text><text x="1083" y="1836.8" font-size="35" textLength="376" lengthAdjust="spacingAndGlyphs" style="fill:#000;stroke:#000;stroke-width:0.5" filter="url(#tb)">Calcification Malignant</text><text x="1083" y="1886.8" font-size="35" textLength="215" lengthAdjust="spacingAndGlyphs" style="fill:#000;stroke:#000;stroke-width:0.5" filter="url(#tb)">Mass Benign</text><text x="1083" y="1938.9" font-size="35" textLength="264" lengthAdjust="spacingAndGlyphs" style="fill:#000;stroke:#000;stroke-width:0.5" filter="url(#tb)">Mass Malignant</text><text x="1083" y="1987.4" font-size="35" textLength="337" lengthAdjust="spacingAndGlyphs" style="fill:#000;stroke:#000;stroke-width:0.5" filter="url(#tb)">Projected test cases</text>
</svg></body></html>
